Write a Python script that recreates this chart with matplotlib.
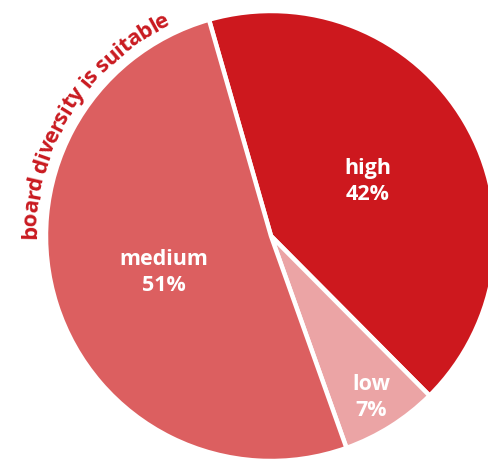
import numpy as np
import matplotlib
matplotlib.use("Agg")
import matplotlib.pyplot as plt
from matplotlib.font_manager import FontProperties
from matplotlib.textpath import TextToPath

categories = ["high", "low", "medium"]
values = [42, 7, 51]
pct_labels = ["42%", "7%", "51%"]
title_text = "board diversity is suitable"

colors = ["#CD181E", "#EBA4A5", "#DC5F60"]
label_dist = [0.50, 0.835, 0.50]
title_color = "#C91A20"

W, H, DPI = 489, 464, 100
fig = plt.figure(figsize=(W / DPI, H / DPI), dpi=DPI)
ax = fig.add_axes([0, 0, 1, 1])

# pie centre at pixel (271, 237), radius 225 px
cx, cy, rpx = 271, 237, 225
wedges, _ = ax.pie(values, colors=colors, startangle=106, counterclock=False,
                   radius=1.0, center=(0, 0),
                   wedgeprops=dict(edgecolor="white", linewidth=3.2))
ax.set_aspect("auto")
ax.set_xlim(-cx / rpx, (W - cx) / rpx)
ax.set_ylim(-(H - cy) / rpx, cy / rpx)
ax.axis("off")

for w, cat, pct, d in zip(wedges, categories, pct_labels, label_dist):
    mid = np.deg2rad((w.theta1 + w.theta2) / 2)
    ax.text(d * np.cos(mid), d * np.sin(mid) - 0.005, f"{cat}\n{pct}",
            ha="center", va="center", color="white", fontsize=15.5,
            fontfamily="Open Sans", fontweight="bold", linespacing=1.3)

# curved title along the arc
t2p = TextToPath()
R = 235 / rpx
theta_start, theta_end = np.deg2rad(180.3), np.deg2rad(115.3)
arc_len_px = (theta_start - theta_end) * 235
prop = FontProperties(family="Open Sans", weight="bold", size=15)
full_w = t2p.get_text_width_height_descent(title_text, prop, ismath=False)[0] * DPI / 72
fs = 15 * arc_len_px / full_w * 1.07
prop = FontProperties(family="Open Sans", weight="bold", size=fs)
full_w = t2p.get_text_width_height_descent(title_text, prop, ismath=False)[0] * DPI / 72
squeeze = arc_len_px / full_w
prev = 0.0
for i, ch in enumerate(title_text):
    wprefix = t2p.get_text_width_height_descent(title_text[:i + 1], prop, ismath=False)[0] * DPI / 72
    center_px = (prev + wprefix) / 2 * squeeze
    prev = wprefix
    if ch == " ":
        continue
    th = theta_start - center_px / 235
    ax.text(R * np.cos(th), R * np.sin(th), ch, rotation=np.rad2deg(th) - 90,
            rotation_mode="anchor", ha="center", va="baseline",
            color=title_color, fontproperties=prop)

fig.savefig("out.png", dpi=DPI)
